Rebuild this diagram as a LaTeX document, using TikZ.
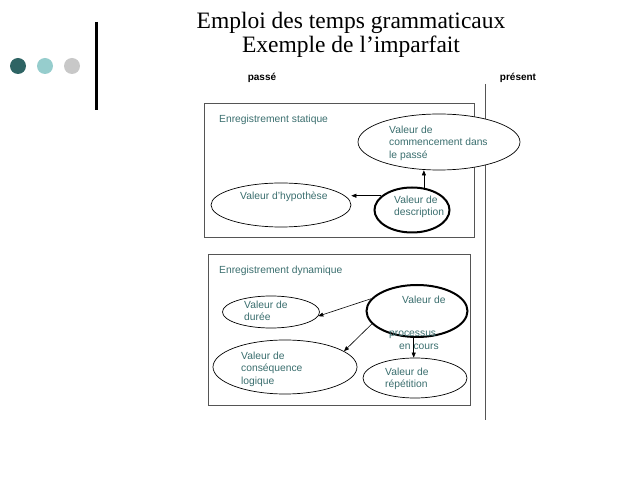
\documentclass[tikz,border=0pt]{standalone}
\usepackage{fontspec}
\setmainfont{Liberation Serif}
\setsansfont{Liberation Sans}
\usetikzlibrary{shapes.geometric,arrows.meta}
\definecolor{tealtxt}{HTML}{3A6E6E}
\definecolor{dotdark}{HTML}{2E6464}
\definecolor{dotlight}{HTML}{96CDCD}
\definecolor{dotgray}{HTML}{C8C8C8}
\definecolor{boxgray}{HTML}{555555}
\tikzset{
  ell/.style={draw=black,fill=white,ellipse,line width=0.7pt,inner sep=0pt},
  thickell/.style={draw=black,fill=white,ellipse,line width=2pt,inner sep=0pt},
  txt/.style={font=\sffamily\fontsize{10.3}{12.5}\selectfont,text=tealtxt,align=left,anchor=west,inner sep=0pt},
  hdr/.style={font=\sffamily\bfseries\fontsize{10}{12}\selectfont,text=black,inner sep=0pt},
  ttl/.style={font=\rmfamily\fontsize{23.5}{26}\selectfont,text=black,inner sep=0pt},
  frame/.style={draw=boxgray,line width=0.8pt},
  arr/.style={-{Triangle[length=5pt,width=4pt]},line width=0.6pt,black},
}
\begin{document}
\begin{tikzpicture}[x=1pt,y=-1pt]
\useasboundingbox (0,0) rectangle (638,478);
% decoration
\fill[dotdark] (18,66) circle (8);
\fill[dotlight] (45,66) circle (8);
\fill[dotgray] (72,66) circle (8);
\draw[line width=3pt,black] (96,22) -- (96,110);
% title
\node[ttl] (t1) at (351,23) {Emploi des temps grammaticaux};
\node[ttl] (t2) at (351,47) {Exemple de l’imparfait};
\node[hdr] (passe) at (262,78) {passé};
\node[hdr] (present) at (518,78) {présent};
\draw[boxgray,line width=0.8pt] (485,84) -- (485,420);
% box 1
\draw[frame] (204,103) rectangle (474,237);
\node[txt] (es) at (219,120) {Enregistrement statique};
\node[ell,minimum width=162,minimum height=56] (comm) at (439,142) {};
\node[txt] at (389,143) {Valeur de\\commencement dans\\le passé};
\node[ell,minimum width=140,minimum height=44] (hyp) at (281,205) {};
\node[txt] at (240,197) {Valeur d’hypothèse};
\node[thickell,minimum width=75,minimum height=45] (desc) at (412,210) {};
\node[txt] at (394,207) {Valeur de\\description};
\draw[arr] (desc.62) -- (desc.62 |- comm.south);
\draw[arr] (desc.155) -- (desc.155 -| hyp.east);
% box 2
\draw[frame] (208,254) rectangle (470,405);
\node[txt] (ed) at (219,271) {Enregistrement dynamique};
\node[ell,minimum width=97,minimum height=32] (duree) at (271,312) {};
\node[txt] at (244,311) {Valeur de\\durée};
\node[ell,minimum width=144,minimum height=54] (cons) at (285,367) {};
\node[txt] at (241,369) {Valeur de\\conséquence\\logique};
\node[ell,minimum width=104,minimum height=40] (rep) at (415,378) {};
\node[txt] at (385,379) {Valeur de\\répétition};
\node[thickell,minimum width=101,minimum height=52] (proc) at (417,311) {};
\node[txt] at (402,300) {Valeur de};
\node[txt] at (389,335) {processus};
\node[txt] at (399,347) {en cours};
\draw[arr] (proc.165) -- (duree.-5);
\draw[arr] (proc.196) -- (cons.15);
\draw[arr] (proc.-97) -- (proc.-97 |- rep.north);
\end{tikzpicture}
\end{document}
